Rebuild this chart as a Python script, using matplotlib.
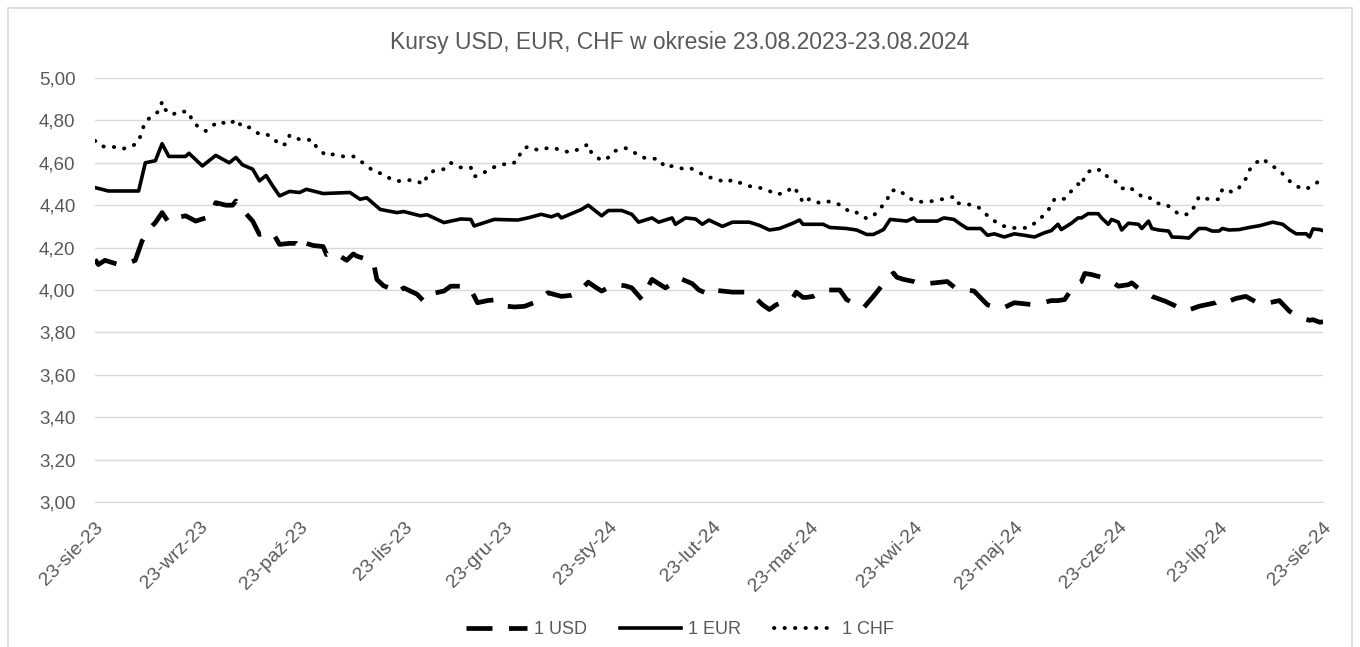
import numpy as np
import pandas as pd
import matplotlib
matplotlib.use("Agg")
import matplotlib.pyplot as plt
from matplotlib.patches import Rectangle

plt.rcParams['font.family'] = ['Liberation Sans Narrow', 'Liberation Sans', 'DejaVu Sans']

start_date = "2023-08-23"
end_date = "2024-08-23"

# (days since 23.08.2023, rate)
usd_points = [
    (0, 4.144), (1, 4.12), (3, 4.14), (6, 4.125), (8, 4.115), (12, 4.14), (14, 4.23), (16, 4.286),
    (18, 4.318), (20, 4.365), (22, 4.318), (24, 4.34), (27, 4.35), (30, 4.325), (33, 4.34), (35, 4.365),
    (36, 4.412), (39, 4.40), (41, 4.40), (42, 4.42), (43, 4.39), (45, 4.36), (47, 4.325), (49, 4.262),
    (51, 4.27), (53, 4.27), (55, 4.215), (58, 4.22), (60, 4.22), (62, 4.19), (63, 4.22), (65, 4.21),
    (68, 4.205), (69, 4.167), (71, 4.18), (73, 4.16), (75, 4.14), (77, 4.17), (78, 4.16), (80, 4.15),
    (83, 4.13), (84, 4.05), (86, 4.02), (89, 4.002), (90, 3.986), (92, 4.01), (94, 3.995), (96, 3.98),
    (98, 3.947), (99, 3.97), (101, 3.985), (104, 3.995), (106, 4.018), (109, 4.018), (110, 4.01),
    (112, 4.002), (114, 3.94), (117, 3.95), (120, 3.955), (123, 3.923), (125, 3.92), (128, 3.923),
    (132, 3.947), (135, 3.987), (139, 3.97), (142, 3.975), (144, 3.987), (147, 4.037), (149, 4.015),
    (151, 3.995), (155, 4.026), (158, 4.02), (160, 4.01), (163, 3.955), (165, 4.02), (166, 4.05),
    (170, 4.01), (172, 4.03), (174, 4.057), (178, 4.03), (180, 4.0), (183, 3.98), (184, 4.0),
    (187, 3.995), (190, 3.99), (195, 3.99), (197, 3.96), (199, 3.93), (201, 3.908), (203, 3.93),
    (206, 3.95), (208, 3.962), (209, 3.99), (211, 3.965), (212, 3.965), (214, 3.97), (217, 4.0),
    (220, 4.0), (222, 4.0), (224, 3.955), (227, 3.93), (229, 3.915), (232, 3.97), (234, 4.01),
    (236, 4.05), (238, 4.08), (239, 4.06), (241, 4.05), (244, 4.04), (246, 4.026), (248, 4.03),
    (251, 4.035), (254, 4.04), (257, 4.002), (260, 4.0), (262, 3.995), (266, 3.93), (268, 3.92),
    (270, 3.91), (274, 3.94), (277, 3.935), (280, 3.93), (285, 3.95), (287, 3.95), (289, 3.955),
    (292, 4.026), (294, 4.04), (295, 4.078), (297, 4.073), (300, 4.06), (302, 4.05), (305, 4.018),
    (308, 4.025), (309, 4.034), (312, 3.994), (314, 3.98), (315, 3.97), (319, 3.947), (322, 3.925),
    (325, 3.9), (329, 3.923), (331, 3.93), (334, 3.94), (336, 3.958), (338, 3.947), (340, 3.96),
    (343, 3.97), (347, 3.935), (350, 3.94), (353, 3.95), (356, 3.9), (359, 3.87), (362, 3.857),
    (363, 3.86), (365, 3.848), (366, 3.85),
]

eur_points = [
    (0, 4.483), (4, 4.467), (13, 4.467), (15, 4.60), (18, 4.61), (20, 4.69), (22, 4.63), (27, 4.63),
    (28, 4.645), (32, 4.585), (36, 4.635), (40, 4.60), (42, 4.625), (44, 4.59), (47, 4.57), (49, 4.515),
    (51, 4.54), (53, 4.49), (55, 4.444), (58, 4.465), (61, 4.46), (63, 4.475), (68, 4.455), (76, 4.46),
    (79, 4.428), (81, 4.435), (85, 4.38), (90, 4.365), (92, 4.37), (97, 4.35), (99, 4.355), (104, 4.318),
    (109, 4.335), (112, 4.333), (113, 4.302), (119, 4.333), (126, 4.33), (129, 4.34), (133, 4.357),
    (136, 4.345), (138, 4.357), (139, 4.34), (142, 4.36), (145, 4.38), (147, 4.40), (151, 4.35),
    (153, 4.375), (157, 4.375), (160, 4.357), (162, 4.32), (166, 4.34), (168, 4.32), (172, 4.34),
    (173, 4.31), (176, 4.34), (179, 4.335), (181, 4.31), (183, 4.33), (187, 4.30), (190, 4.32),
    (195, 4.32), (198, 4.305), (201, 4.283), (204, 4.29), (208, 4.315), (210, 4.33), (211, 4.31),
    (217, 4.31), (219, 4.295), (224, 4.29), (227, 4.283), (230, 4.262), (232, 4.262), (235, 4.285),
    (237, 4.333), (242, 4.325), (244, 4.34), (245, 4.325), (251, 4.325), (253, 4.34), (256, 4.333),
    (258, 4.31), (260, 4.29), (264, 4.29), (266, 4.258), (268, 4.265), (271, 4.25), (274, 4.265),
    (277, 4.258), (280, 4.25), (283, 4.27), (285, 4.28), (287, 4.31), (288, 4.285), (291, 4.315),
    (293, 4.34), (294, 4.34), (296, 4.36), (299, 4.36), (300, 4.34), (302, 4.31), (303, 4.333),
    (305, 4.32), (306, 4.283), (308, 4.315), (311, 4.31), (312, 4.29), (314, 4.325), (315, 4.29),
    (317, 4.283), (320, 4.278), (321, 4.25), (324, 4.248), (326, 4.245), (329, 4.29), (331, 4.29),
    (333, 4.278), (335, 4.278), (336, 4.29), (338, 4.283), (341, 4.285), (344, 4.295), (347, 4.303),
    (351, 4.32), (354, 4.31), (356, 4.285), (358, 4.265), (361, 4.265), (362, 4.25), (363, 4.288),
    (365, 4.285), (366, 4.28),
]

chf_points = [
    (0, 4.704), (2, 4.677), (5, 4.677), (8, 4.665), (11, 4.677), (13, 4.70), (14, 4.75), (15, 4.795),
    (17, 4.82), (19, 4.843), (20, 4.888), (21, 4.85), (23, 4.826), (25, 4.843), (28, 4.84), (29, 4.795),
    (31, 4.767), (33, 4.75), (35, 4.775), (37, 4.795), (40, 4.78), (42, 4.805), (44, 4.767), (46, 4.767),
    (49, 4.735), (51, 4.735), (53, 4.72), (55, 4.683), (57, 4.688), (58, 4.73), (61, 4.71), (65, 4.707),
    (66, 4.673), (69, 4.633), (71, 4.64), (74, 4.63), (77, 4.63), (79, 4.61), (81, 4.585), (83, 4.562),
    (86, 4.545), (88, 4.525), (90, 4.513), (93, 4.518), (95, 4.518), (98, 4.50), (99, 4.54), (101, 4.563),
    (104, 4.57), (106, 4.60), (109, 4.578), (112, 4.578), (113, 4.535), (115, 4.545), (118, 4.573),
    (121, 4.593), (124, 4.593), (126, 4.61), (127, 4.656), (129, 4.677), (132, 4.66), (134, 4.668),
    (137, 4.67), (139, 4.656), (142, 4.65), (145, 4.67), (147, 4.688), (148, 4.645), (151, 4.61),
    (153, 4.625), (155, 4.656), (158, 4.67), (160, 4.656), (163, 4.625), (166, 4.62), (168, 4.618),
    (170, 4.578), (172, 4.585), (175, 4.573), (177, 4.578), (180, 4.556), (182, 4.535), (185, 4.525),
    (188, 4.507), (190, 4.52), (192, 4.507), (195, 4.49), (198, 4.483), (201, 4.467), (203, 4.45),
    (206, 4.46), (208, 4.488), (210, 4.45), (211, 4.41), (213, 4.43), (216, 4.41), (218, 4.418),
    (220, 4.415), (223, 4.395), (225, 4.365), (227, 4.365), (230, 4.337), (232, 4.35), (234, 4.385),
    (236, 4.42), (237, 4.465), (239, 4.475), (242, 4.444), (244, 4.42), (247, 4.415), (250, 4.42),
    (253, 4.43), (256, 4.44), (257, 4.41), (260, 4.405), (263, 4.395), (265, 4.365), (267, 4.337),
    (270, 4.305), (273, 4.293), (276, 4.293), (278, 4.293), (281, 4.325), (283, 4.357), (285, 4.395),
    (286, 4.43), (289, 4.43), (291, 4.467), (293, 4.5), (294, 4.49), (295, 4.538), (297, 4.57),
    (300, 4.565), (302, 4.53), (304, 4.515), (306, 4.478), (308, 4.488), (311, 4.455), (312, 4.44),
    (314, 4.44), (316, 4.41), (319, 4.405), (321, 4.385), (323, 4.357), (326, 4.357), (328, 4.40),
    (329, 4.44), (332, 4.428), (335, 4.428), (336, 4.475), (337, 4.478), (339, 4.46), (341, 4.483),
    (343, 4.525), (344, 4.565), (346, 4.60), (348, 4.62), (350, 4.593), (353, 4.565), (355, 4.53),
    (357, 4.5), (360, 4.475), (362, 4.483), (365, 4.515),
]

month_labels = ["sie", "wrz", "paź", "lis", "gru", "sty", "lut", "mar", "kwi", "maj", "cze", "lip", "sie"]
yticks = [3.0, 3.2, 3.4, 3.6, 3.8, 4.0, 4.2, 4.4, 4.6, 4.8, 5.0]


def to_xy(points):
    days = np.array([p[0] for p in points])
    vals = np.array([p[1] for p in points])
    dates = pd.Timestamp(start_date) + pd.to_timedelta(days, unit="D")
    return dates, vals


fig = plt.figure(figsize=(13.6, 6.47), dpi=100)
fig.patches.append(Rectangle((8 / 1360, -0.1), 1344 / 1360, 1.1 - 8 / 647, transform=fig.transFigure,
                             fill=False, edgecolor="#d9d9d9", linewidth=1.2))
ax = fig.add_axes([95 / 1360, 1 - 502 / 647, 1228 / 1360, 424 / 647])

d, v = to_xy(usd_points)
ax.plot(d, v, color="black", linewidth=3.4, linestyle=(0, (5.5, 3.5)), label="1 USD")
d, v = to_xy(eur_points)
ax.plot(d, v, color="black", linewidth=2.6, label="1 EUR", solid_joinstyle="round")
d, v = to_xy(chf_points)
ax.plot(d, v, color="black", linewidth=2.8, linestyle=(0, (0.1, 2.6)), dash_capstyle="round", label="1 CHF")

ax.set_ylim(3.0, 5.0)
ax.set_yticks(yticks)
ax.set_yticklabels([f"{t:.2f}".replace(".", ",") for t in yticks])
ax.set_xlim(pd.Timestamp(start_date), pd.Timestamp(end_date))
xt = pd.date_range(start_date, end_date, freq="MS") + pd.Timedelta(days=22)
xt = [pd.Timestamp(start_date)] + [t for t in xt if pd.Timestamp(start_date) < t <= pd.Timestamp(end_date)]
ax.set_xticks(xt)
ax.set_xticklabels([f"23-{m}-{t.strftime('%y')}" for m, t in zip(month_labels, xt)],
                   rotation=45, ha="right", rotation_mode="anchor")

ax.grid(axis="y", color="#d9d9d9", linewidth=1)
ax.set_axisbelow(True)
for s in ["top", "right", "left"]:
    ax.spines[s].set_visible(False)
ax.spines["bottom"].set_color("#d9d9d9")
ax.tick_params(axis="both", length=0, colors="#595959")
ax.tick_params(axis="y", pad=14, labelsize=13.5)
ax.tick_params(axis="x", pad=12, labelsize=14)

fig.text(0.5, 1 - 42 / 647, "Kursy USD, EUR, CHF w okresie 23.08.2023-23.08.2024",
         ha="center", va="center", fontsize=16.5, color="#595959")

fig.legend(loc="center", bbox_to_anchor=(0.5, 1 - 630 / 647), ncol=3, frameon=False,
           fontsize=13, labelcolor="#595959", handlelength=3.4, columnspacing=1.8, handletextpad=0.4)

fig.savefig("out.png", dpi=100)
